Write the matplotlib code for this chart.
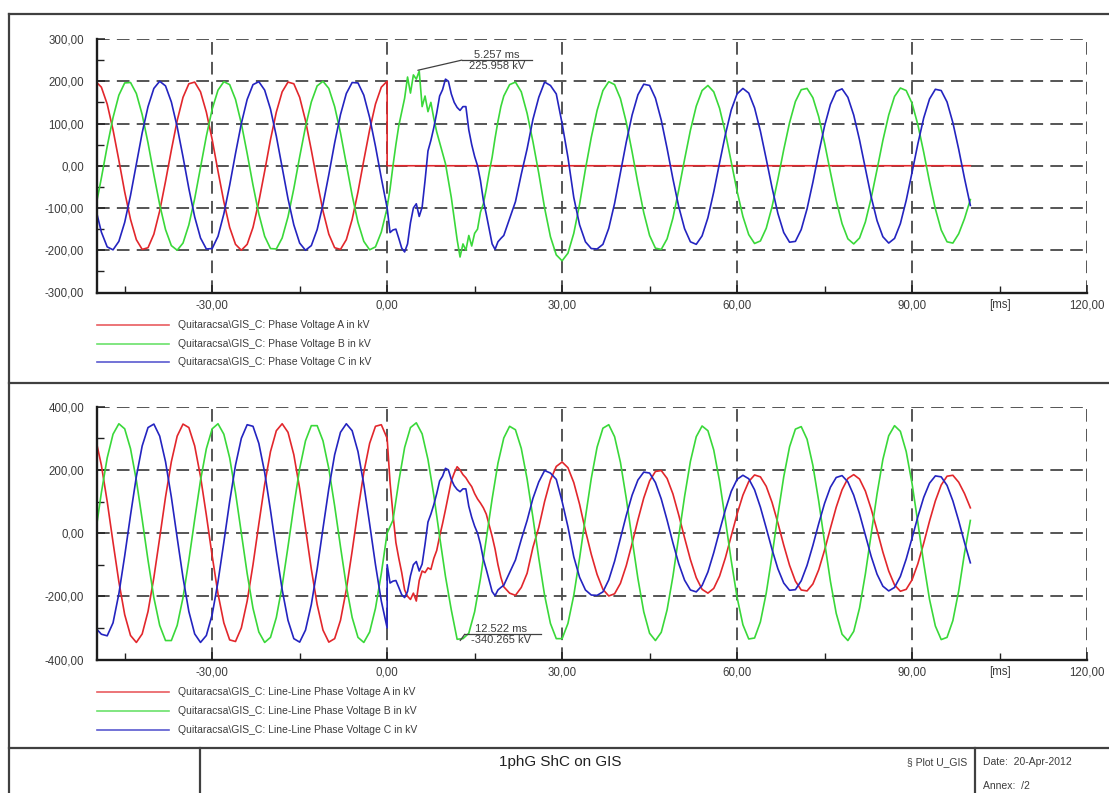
import matplotlib
matplotlib.use('Agg')
import matplotlib.pyplot as plt
import numpy as np
from matplotlib.lines import Line2D

plt.rcParams['font.family'] = ['Liberation Sans', 'DejaVu Sans']

# time in ms: pre-fault on 1 ms, fault transient on 0.5 ms, then 1 ms again
t_pre = np.arange(-50, 1)
t_post = np.concatenate([np.arange(0, 20, 0.5), np.arange(20, 101)])
t_post_1ms = np.arange(0, 101)
t_a_post = [0, 100]

# phase voltages (kV)
phase_a_pre = [200, 186, 146, 85, 13, -62, -127, -175, -198, -194,
               -162, -107, -37, 37, 107, 162, 194, 198, 175, 127,
               62, -13, -85, -146, -186, -200, -186, -146, -85, -13,
               62, 127, 175, 198, 194, 162, 107, 37, -37, -107,
               -162, -194, -198, -175, -127, -62, 13, 85, 146, 186,
               200]
phase_a_post = [0, 0]

phase_b_pre = [-100, -29, 46, 114, 167, 196, 197, 171, 121, 54,
               -21, -92, -151, -189, -200, -183, -140, -78, -4, 70,
               134, 179, 199, 192, 157, 100, 29, -46, -114, -167,
               -196, -197, -171, -121, -54, 21, 92, 151, 189, 200,
               183, 140, 78, 4, -70, -134, -179, -199, -192, -157,
               -100]
phase_b_post = [-98, -55, 0, 50, 95, 128, 160, 210, 172, 215,
                205, 224, 140, 165, 128, 150, 112, 80, 55, 30,
                5, -35, -75, -125, -175, -216, -185, -200, -165, -190,
                -160, -150, -110, -90, -55, -15, 20, 65, 105, 140,
                165, 192, 198, 175, 124, 57, -18, -100, -168, -211,
                -225, -207, -160, -91, -8, 67, 131, 178, 199, 192,
                159, 103, 33, -42, -111, -165, -195, -198, -173, -124,
                -57, 15, 84, 141, 178, 190, 175, 136, 78, 9,
                -60, -120, -163, -184, -178, -148, -97, -32, 38, 102,
                152, 180, 183, 161, 116, 54, -15, -82, -137, -173,
                -185, -171, -133, -76, -9, 60, 120, 164, 184, 178,
                148, 97, 32, -38, -102, -152, -180, -183, -161, -125,
                -80]

phase_c_pre = [-100, -157, -192, -199, -179, -134, -70, 4, 78, 140,
               183, 200, 189, 151, 92, 21, -54, -121, -171, -197,
               -196, -167, -114, -46, 29, 100, 157, 192, 199, 179,
               134, 70, -4, -78, -140, -183, -200, -189, -151, -92,
               -21, 54, 121, 171, 197, 196, 167, 114, 46, -29,
               -100]
phase_c_post = [-100, -158, -152, -150, -172, -195, -204, -185, -135, -100,
                -90, -120, -98, -35, 35, 60, 90, 125, 165, 180,
                205, 200, 170, 150, 138, 131, 140, 140, 85, 50,
                22, 0, -35, -82, -115, -150, -185, -198, -180, -172,
                -165, -125, -85, -20, 40, 110, 162, 198, 190, 170,
                100, 20, -75, -140, -180, -196, -197, -186, -148, -89,
                -17, 56, 120, 168, 193, 190, 160, 108, 41, -31,
                -97, -149, -180, -186, -166, -123, -62, 7, 74, 132,
                170, 183, 172, 137, 82, 16, -52, -113, -158, -181,
                -179, -151, -102, -39, 30, 94, 145, 176, 182, 162,
                120, 61, -7, -74, -130, -168, -183, -172, -137, -82,
                -16, 52, 113, 158, 181, 178, 151, 102, 39, -30,
                -94]

# line-line voltages (kV)
ll_a_pre = [300, 215, 100, -29, -154, -258, -324, -346, -319, -248,
            -141, -15, 114, 226, 307, 345, 334, 276, 179, 57,
            -72, -192, -284, -338, -343, -300, -215, -100, 29, 154,
            258, 324, 346, 319, 248, 141, 15, -114, -226, -307,
            -345, -334, -276, -179, -57, 72, 192, 284, 338, 343,
            300]
ll_a_post = [300, 160, 60, -30, -80, -125, -180, -200, -210, -190,
             -215, -150, -120, -125, -110, -115, -80, -55, -10, 30,
             74, 120, 165, 190, 210, 200, 185, 175, 160, 147,
             125, 108, 95, 80, 60, 25, -10, -50, -100, -140,
             -170, -190, -197, -172, -127, -45, 18, 100, 168, 211,
             225, 207, 160, 91, 8, -67, -131, -178, -199, -192,
             -159, -103, -33, 42, 111, 165, 195, 198, 173, 124,
             57, -15, -84, -141, -178, -190, -175, -136, -78, -9,
             60, 120, 163, 184, 178, 148, 97, 32, -38, -102,
             -152, -180, -183, -161, -116, -54, 15, 82, 137, 173,
             185, 171, 133, 76, 9, -60, -120, -164, -184, -178,
             -148, -97, -32, 38, 102, 152, 180, 183, 161, 125,
             80]

ll_b_pre = [0, 128, 238, 313, 346, 330, 267, 167, 43, -86,
            -204, -292, -340, -340, -292, -204, -86, 43, 167, 267,
            330, 346, 313, 238, 128, 0, -128, -238, -313, -346,
            -330, -267, -167, -43, 86, 204, 292, 340, 340, 292,
            204, 86, -43, -167, -267, -330, -346, -313, -238, -128,
            0]
ll_b_post = [0, 41, 164, 271, 334, 349, 314, 233, 120, -11,
             -137, -243, -336, -334, -317, -249, -144, -19, 108, 221,
             301, 338, 327, 268, 171, 49, -79, -197, -286, -334,
             -334, -286, -197, -79, 50, 173, 272, 332, 343, 305,
             224, 110, -19, -144, -249, -317, -340, -314, -243, -137,
             -11, 116, 227, 305, 339, 324, 263, 164, 41, -87,
             -203, -290, -335, -332, -281, -190, -71, 58, 178, 273,
             329, 337, 297, 214, 101, -28, -152, -254, -320, -340,
             -311, -237, -129, -3, 124, 233, 308, 340, 322, 258,
             157, 33, -95, -210, -294, -337, -330, -277, -183, -63,
             40]

ll_c_pre = [-300, -320, -325, -284, -192, -72, 57, 179, 276, 334,
            345, 307, 226, 114, -15, -141, -248, -319, -346, -324,
            -258, -154, -29, 100, 215, 300, 343, 338, 284, 192,
            72, -57, -179, -276, -334, -345, -307, -226, -114, 15,
            141, 248, 319, 346, 324, 258, 154, 29, -100, -215,
            -300]
# phase A is grounded after the fault, so C-A follows phase C
ll_c_post = phase_c_post

x_ticks = [-30, 0, 30, 60, 90, 120]
x_tick_labels = ['-30,00', '0,00', '30,00', '60,00', '90,00', '120,00']
x_minor = [-45, -15, 15, 45, 75, 105]
x_minor_labels = ['', '', '', '', '', '[ms]']

top_yticks = [-300, -200, -100, 0, 100, 200, 300]
top_ylabels = ['-300,00', '-200,00', '-100,00', '0,00', '100,00', '200,00', '300,00']
top_yminor = [-250, -150, -50, 50, 150, 250]
bot_yticks = [-400, -200, 0, 200, 400]
bot_ylabels = ['-400,00', '-200,00', '0,00', '200,00', '400,00']
bot_yminor = [-300, -100, 100, 300]

top_legend = ['Quitaracsa\\GIS_C: Phase Voltage A in kV',
              'Quitaracsa\\GIS_C: Phase Voltage B in kV',
              'Quitaracsa\\GIS_C: Phase Voltage C in kV']
bot_legend = ['Quitaracsa\\GIS_C: Line-Line Phase Voltage A in kV',
              'Quitaracsa\\GIS_C: Line-Line Phase Voltage B in kV',
              'Quitaracsa\\GIS_C: Line-Line Phase Voltage C in kV']

top_marker = (5.257, 225.958)
bot_marker = (12.522, -340.265)

RED = '#e2272c'
GREEN = '#3ad83a'
BLUE = '#2424c0'
GRAY = '#3c3c3c'

W, H = 1109, 793
fig = plt.figure(figsize=(W / 100, H / 100), dpi=100)


def rect(x0, y0, x1, y1):
    return [x0 / W, 1 - y1 / H, (x1 - x0) / W, (y1 - y0) / H]


def hline(x0, x1, y, **kw):
    fig.add_artist(Line2D([x0 / W, x1 / W], [1 - y / H, 1 - y / H], transform=fig.transFigure, **kw))


def vline(x, y0, y1, **kw):
    fig.add_artist(Line2D([x / W, x / W], [1 - y0 / H, 1 - y1 / H], transform=fig.transFigure, **kw))


def style(ax, ylim, yticks, ylabels, yminor):
    ax.set_xlim(-49.8, 120)
    ax.set_ylim(*ylim)
    ax.set_xticks(x_ticks, labels=x_tick_labels)
    ax.set_xticks(x_minor, labels=x_minor_labels, minor=True)
    ax.set_yticks(yticks, labels=ylabels)
    ax.set_yticks(yminor, minor=True)
    for s in ['top', 'right']:
        ax.spines[s].set_visible(False)
    for s in ['left', 'bottom']:
        ax.spines[s].set_linewidth(1.7)
        ax.spines[s].set_color('#1c1c1c')
    ax.grid(True, which='major', linestyle=(0, (7, 4)), color='#484848', linewidth=1.3)
    ax.tick_params(which='major', direction='in', length=6, width=1.1, color='#202020',
                   labelsize=8.3, labelcolor=GRAY)
    ax.tick_params(which='minor', direction='in', length=5, width=1, color='#202020',
                   labelsize=8.3, labelcolor=GRAY)
    ax.tick_params(axis='y', which='both', pad=9)
    ax.tick_params(axis='x', which='both', pad=5)
    ax.set_axisbelow(True)


ax1 = fig.add_axes(rect(96.7, 39, 1087, 292.5))
style(ax1, (-300, 300), top_yticks, top_ylabels, top_yminor)
ax1.plot(np.concatenate([t_pre, t_a_post]), phase_a_pre + phase_a_post, color=RED, lw=1.2)
ax1.plot(np.concatenate([t_pre, t_post]), phase_b_pre + phase_b_post, color=GREEN, lw=1.2)
ax1.plot(np.concatenate([t_pre, t_post]), phase_c_pre + phase_c_post, color=BLUE, lw=1.2)
ax1.annotate('', xy=top_marker, xytext=(12.8, 250),
             arrowprops=dict(arrowstyle='-', color='#404040', lw=0.9, shrinkA=0, shrinkB=0))
ax1.plot([12.8, 24.8], [250, 250], color='#404040', lw=0.9)
ax1.text(18.8, 251, '%.3f ms' % top_marker[0], fontsize=8, color=GRAY, ha='center', va='bottom')
ax1.text(18.8, 249, '%.3f kV' % top_marker[1], fontsize=8, color=GRAY, ha='center', va='top')

ax2 = fig.add_axes(rect(96.7, 406.7, 1087, 659.5))
style(ax2, (-400, 400), bot_yticks, bot_ylabels, bot_yminor)
ax2.plot(np.concatenate([t_pre, t_post]), ll_a_pre + ll_a_post, color=RED, lw=1.2)
ax2.plot(np.concatenate([t_pre, t_post_1ms]), ll_b_pre + ll_b_post, color=GREEN, lw=1.2)
ax2.plot(np.concatenate([t_pre, t_post]), ll_c_pre + ll_c_post, color=BLUE, lw=1.2)
ax2.annotate('', xy=bot_marker, xytext=(13.3, -320),
             arrowprops=dict(arrowstyle='-', color='#404040', lw=0.9, shrinkA=0, shrinkB=0))
ax2.plot([13.3, 26.3], [-320, -320], color='#404040', lw=0.9)
ax2.text(19.6, -318, '%.3f ms' % bot_marker[0], fontsize=8, color=GRAY, ha='center', va='bottom')
ax2.text(19.6, -322, '%.3f kV' % bot_marker[1], fontsize=8, color=GRAY, ha='center', va='top')

# legends under each plot
for labels, rows in [(top_legend, [325, 344, 362]), (bot_legend, [692, 711, 730])]:
    for lab, y, c in zip(labels, rows, [RED, GREEN, BLUE]):
        hline(97, 169, y, color=c, lw=1.2, alpha=0.75)
        fig.text(178 / W, 1 - y / H, lab, fontsize=7.5, color=GRAY, va='center', ha='left')

# page frame and title block
frame = dict(color='#404040', lw=1.6)
vline(9, 14, 793, **frame)
hline(9, 1109, 14, **frame)
hline(9, 1109, 383, **frame)
hline(9, 1109, 748, **frame)
vline(200, 748, 793, **frame)
vline(975, 748, 793, **frame)
fig.text(560 / W, 1 - 762 / H, '1phG ShC on GIS', fontsize=11, color='#202020', ha='center', va='center')
fig.text(967 / W, 1 - 762 / H, '§ Plot U_GIS', fontsize=7.5, color=GRAY, ha='right', va='center')
fig.text(983 / W, 1 - 762 / H, 'Date:  20-Apr-2012', fontsize=7.5, color=GRAY, ha='left', va='center')
fig.text(983 / W, 1 - 786 / H, 'Annex:  /2', fontsize=7.5, color=GRAY, ha='left', va='center')

fig.savefig('out.png', dpi=100)
